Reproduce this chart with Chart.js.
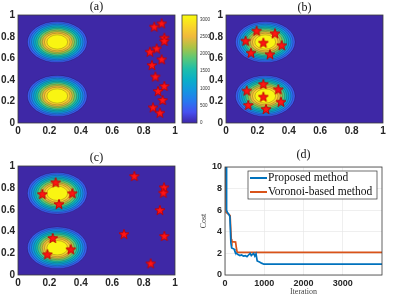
<!DOCTYPE html>
<html>
<head>
<meta charset="utf-8">
<script src="https://cdn.jsdelivr.net/npm/chart.js@4.4.0/dist/chart.umd.min.js"></script>
<style>
html, body { margin: 0; padding: 0; background: #fff; }
body { width: 393px; height: 301px; position: relative; overflow: hidden; }
.panel { position: absolute; left: 0; top: 0; width: 393px; height: 301px; }
.ylab { position: absolute; width: 24px; text-align: right; font: bold 10px "Liberation Sans"; color: #262626; line-height: 12px; z-index: 20; }
</style>
</head>
<body>
<div class="panel"><canvas id="ca"></canvas></div>
<div class="panel"><canvas id="cbar"></canvas></div>
<div class="panel"><canvas id="cb"></canvas></div>
<div class="panel"><canvas id="cc"></canvas></div>
<div class="panel"><canvas id="cd"></canvas></div>
<div id="labels"></div>
<script>
'use strict'

// density peaks and contour rings (radius in data units, outer -> inner)
const peakCenters = [[0.25, 0.25], [0.25, 0.75]];
const contourRadii = [0.19, 0.177, 0.164, 0.15, 0.137, 0.124, 0.11, 0.096, 0.082, 0.066];
const contourColors = ['rgb(60,92,240)', 'rgb(40,120,240)', 'rgb(22,148,226)', 'rgb(12,172,202)',
    'rgb(26,188,174)', 'rgb(82,199,126)', 'rgb(160,196,76)', 'rgb(232,186,60)',
    'rgb(249,210,44)', 'rgb(249,245,18)'];
const contourBackground = 'rgb(62,40,166)';

const unitTicks = [0, 0.2, 0.4, 0.6, 0.8, 1];

const colorbarMax = 3125;
const colorbarTicks = [0, 500, 1000, 1500, 2000, 2500, 3000];
const parulaStops = ['rgb(62,38,168)', 'rgb(70,80,240)', 'rgb(40,120,240)', 'rgb(20,150,225)',
    'rgb(10,175,200)', 'rgb(30,190,170)', 'rgb(90,200,120)', 'rgb(170,195,70)',
    'rgb(240,185,60)', 'rgb(250,215,40)', 'rgb(249,251,14)'];

// agent positions
const starsAx = [0.915, 0.868, 0.932, 0.932, 0.883, 0.84, 0.915, 0.853, 0.875, 0.932, 0.892, 0.921, 0.86, 0.904];
const starsAy = [0.923, 0.892, 0.79, 0.76, 0.69, 0.66, 0.59, 0.537, 0.43, 0.343, 0.296, 0.213, 0.145, 0.095];
const starsBx = [0.195, 0.312, 0.125, 0.238, 0.355, 0.159, 0.28, 0.238, 0.132, 0.333, 0.238, 0.142, 0.35, 0.255];
const starsBy = [0.855, 0.83, 0.762, 0.744, 0.72, 0.651, 0.636, 0.361, 0.3, 0.312, 0.244, 0.167, 0.197, 0.13];
const starsCx = [0.24, 0.155, 0.346, 0.261, 0.221, 0.336, 0.187, 0.741, 0.93, 0.926, 0.904, 0.675, 0.932, 0.845];
const starsCy = [0.85, 0.743, 0.75, 0.651, 0.34, 0.236, 0.19, 0.908, 0.805, 0.755, 0.596, 0.376, 0.358, 0.107];

// cost curves
const iterTicks = [0, 1000, 2000, 3000];
const costTicks = [0, 2, 4, 6, 8, 10];
const iterProposed = [0, 30, 40, 60, 100, 125, 150, 170, 230, 250, 290, 330, 380, 420, 470, 520, 560, 600, 640, 670, 700, 730, 760, 790, 820, 880, 930, 990, 4000];
const costProposed = [20, 10, 6.0, 5.8, 5.6, 5.4, 3.0, 2.5, 2.4, 2.2, 2.0, 1.9, 1.8, 1.85, 1.75, 1.8, 1.7, 1.85, 2.0, 1.8, 1.9, 2.0, 1.75, 1.95, 1.3, 1.2, 1.1, 1.0, 1.0];
const iterVoronoi = [0, 20, 30, 100, 130, 160, 175, 270, 290, 310, 4000];
const costVoronoi = [20, 10, 5.8, 5.6, 5.5, 3.3, 3.1, 3.05, 2.5, 2.1, 2.1];

Chart.defaults.font.family = 'Liberation Sans';
Chart.defaults.color = '#262626';
Chart.defaults.animation = false;
Chart.defaults.events = [];

function makeStar(size){
    const c = document.createElement('canvas');
    c.width = size; c.height = size;
    const g = c.getContext('2d');
    const R = size / 2 - 0.8, r = R * 0.42, m = size / 2;
    g.beginPath();
    for (let i = 0; i < 10; i++){
        const a = -Math.PI / 2 + i * Math.PI / 5;
        const rr = i % 2 ? r : R;
        g.lineTo(m + rr * Math.cos(a), m + 0.5 + rr * Math.sin(a));
    }
    g.closePath();
    g.fillStyle = '#ff1414';
    g.fill();
    g.strokeStyle = '#c00000';
    g.lineWidth = 0.9;
    g.stroke();
    return c;
}
const star = makeStar(12);

const panelTitle = {
    id: 'panelTitle',
    afterDraw(chart, args, opts){
        const {ctx, chartArea: a} = chart;
        ctx.save();
        ctx.font = '12px "Liberation Serif"';
        ctx.fillStyle = '#111';
        ctx.textAlign = 'center';
        ctx.textBaseline = 'middle';
        ctx.fillText(opts.text, (a.left + a.right) / 2, a.top - opts.offset);
        ctx.restore();
    }
};

// y tick labels of the map panels as page text, placed from the y scale
const yLabels = {
    id: 'yLabels',
    afterRender(chart){
        const {chartArea: a, scales: {y}} = chart;
        const holder = document.getElementById('labels');
        const key = chart.canvas.id;
        holder.querySelectorAll('[data-for="' + key + '"]').forEach(n => n.remove());
        unitTicks.forEach(v => {
            const s = document.createElement('div');
            s.className = 'ylab';
            s.dataset.for = key;
            s.textContent = String(v);
            s.style.left = (a.left - 3 - 24) + 'px';
            s.style.top = (y.getPixelForValue(v) - 6) + 'px';
            holder.appendChild(s);
        });
    }
};

const boxPlugin = {
    id: 'box',
    afterDraw(chart){
        const {ctx, chartArea: a} = chart;
        ctx.save();
        ctx.strokeStyle = '#3a3a3a';
        ctx.lineWidth = 0.8;
        ctx.strokeRect(a.left, a.top, a.width, a.height);
        ctx.restore();
    }
};

const contourPlugin = {
    id: 'contour',
    beforeDatasetsDraw(chart){
        const {ctx, chartArea: a, scales: {x, y}} = chart;
        ctx.save();
        ctx.beginPath();
        ctx.rect(a.left, a.top, a.width, a.height);
        ctx.clip();
        ctx.fillStyle = contourBackground;
        ctx.fillRect(a.left, a.top, a.width, a.height);
        peakCenters.forEach(([cx, cy]) => {
            const px = x.getPixelForValue(cx), py = y.getPixelForValue(cy);
            contourRadii.forEach((r, i) => {
                const rx = x.getPixelForValue(cx + r) - px;
                const ry = py - y.getPixelForValue(cy + r);
                ctx.beginPath();
                ctx.ellipse(px, py, rx, ry, 0, 0, Math.PI * 2);
                ctx.fillStyle = contourColors[i];
                ctx.fill();
                ctx.lineWidth = 0.5;
                ctx.strokeStyle = 'rgba(0,0,0,0.4)';
                ctx.stroke();
            });
        });
        ctx.restore();
    }
};

function fixWidth(w){ return scale => { scale.width = w; }; }
function fixHeight(h){ return scale => { scale.height = h; }; }
function setTicks(values){ return scale => { scale.ticks = values.map(v => ({value: v})); }; }

// every canvas covers the whole page; padding places the plot
function contourChart(id, xs, ys, title, titleOffset, pad, yWidth){
    return new Chart(document.getElementById(id), {
        type: 'scatter',
        data: {
            datasets: [{
                data: xs.map((v, i) => ({x: v, y: ys[i]})),
                pointStyle: star,
                pointRadius: 6,
            }]
        },
        options: {
            responsive: true,
            maintainAspectRatio: false,
            layout: {padding: pad},
            plugins: {legend: {display: false}, tooltip: {enabled: false},
                panelTitle: {text: title, offset: titleOffset}},
            scales: {
                x: {
                    min: 0, max: 1,
                    afterBuildTicks: setTicks(unitTicks),
                    afterFit: fixHeight(17),
                    grid: {display: false, drawTicks: false},
                    border: {display: false},
                    ticks: {font: {size: 10, weight: 'bold'}, padding: 2, maxRotation: 0,
                        callback: v => String(v)}
                },
                y: {
                    min: 0, max: 1,
                    afterBuildTicks: setTicks(unitTicks),
                    afterFit: fixWidth(yWidth),
                    grid: {display: false, drawTicks: false},
                    border: {display: false},
                    ticks: {display: false}
                }
            }
        },
        plugins: [contourPlugin, boxPlugin, panelTitle, yLabels]
    });
}

contourChart('ca', starsAx, starsAy, '(a)', 8, {left: 0, right: 218, top: 15, bottom: 161}, 18);
contourChart('cb', starsBx, starsBy, '(b)', 7, {left: 195, right: 10, top: 15, bottom: 161}, 31);
contourChart('cc', starsCx, starsCy, '(c)', 8, {left: 0, right: 218, top: 166, bottom: 9}, 18);

new Chart(document.getElementById('cbar'), {
    type: 'bar',
    data: {
        labels: [''],
        datasets: [{
            data: [colorbarMax],
            barPercentage: 1,
            categoryPercentage: 1,
            backgroundColor: ctx => {
                const a = ctx.chart.chartArea;
                if (!a) return parulaStops[0];
                const g = ctx.chart.ctx.createLinearGradient(0, a.bottom, 0, a.top);
                parulaStops.forEach((c, i) => g.addColorStop(i / (parulaStops.length - 1), c));
                return g;
            }
        }]
    },
    options: {
        responsive: true,
        maintainAspectRatio: false,
        layout: {padding: {top: 15, left: 182, right: 183, bottom: 178}},
        plugins: {legend: {display: false}, tooltip: {enabled: false}},
        scales: {
            x: {display: false},
            y: {
                position: 'right',
                min: 0, max: colorbarMax,
                afterBuildTicks: setTicks(colorbarTicks),
                afterFit: fixWidth(13),
                grid: {display: false, drawTicks: false},
                border: {display: false},
                ticks: {font: {size: 4.5}, padding: 3, color: '#333', callback: v => String(v)}
            }
        }
    },
    plugins: [boxPlugin]
});

const legendBox = {
    id: 'legendBox',
    afterDraw(chart){
        const {ctx, chartArea: a} = chart;
        const w = 129, h = 28;
        const x0 = a.right - 5 - w, y0 = a.top + 4;
        ctx.save();
        ctx.fillStyle = '#fff';
        ctx.fillRect(x0, y0, w, h);
        ctx.strokeStyle = '#333';
        ctx.lineWidth = 0.7;
        ctx.strokeRect(x0, y0, w, h);
        ctx.font = '11.5px "Liberation Serif"';
        ctx.textBaseline = 'middle';
        chart.data.datasets.forEach((ds, i) => {
            const yy = y0 + 7 + i * 14;
            ctx.strokeStyle = ds.borderColor;
            ctx.lineWidth = 2;
            ctx.beginPath();
            ctx.moveTo(x0 + 2, yy);
            ctx.lineTo(x0 + 19, yy);
            ctx.stroke();
            ctx.fillStyle = '#111';
            ctx.fillText(ds.label, x0 + 20, yy);
        });
        ctx.restore();
    }
};

new Chart(document.getElementById('cd'), {
    type: 'line',
    data: {
        datasets: [{
            label: 'Proposed method',
            data: iterProposed.map((v, i) => ({x: v, y: costProposed[i]})),
            borderColor: 'rgb(0,114,189)',
            borderWidth: 1.7,
            pointRadius: 0,
        }, {
            label: 'Voronoi-based method',
            data: iterVoronoi.map((v, i) => ({x: v, y: costVoronoi[i]})),
            borderColor: 'rgb(217,83,25)',
            borderWidth: 1.7,
            pointRadius: 0,
        }]
    },
    options: {
        responsive: true,
        maintainAspectRatio: false,
        layout: {padding: {top: 167, right: 11, left: 195, bottom: 0}},
        plugins: {legend: {display: false}, tooltip: {enabled: false},
            panelTitle: {text: '(d)', offset: 12}},
        scales: {
            x: {
                type: 'linear',
                min: 0, max: 4000,
                afterBuildTicks: setTicks(iterTicks),
                afterFit: fixHeight(26),
                grid: {color: '#e4e4e4', lineWidth: 0.6, drawTicks: false},
                border: {display: false},
                ticks: {font: {size: 9, weight: 'bold'}, padding: 3, maxRotation: 0, callback: v => String(v)},
                title: {display: true, text: 'Iteration', font: {family: 'Liberation Serif', size: 8}, padding: {top: 0, bottom: 4}, color: '#444'}
            },
            y: {
                min: 0, max: 10,
                afterBuildTicks: setTicks(costTicks),
                afterFit: fixWidth(30),
                grid: {color: '#e4e4e4', lineWidth: 0.6, drawTicks: false},
                border: {display: false},
                ticks: {font: {size: 9, weight: 'bold'}, padding: 3, callback: v => String(v)},
                title: {display: true, text: 'Cost', font: {family: 'Liberation Serif', size: 8}, padding: {top: 4, bottom: 0}, color: '#444'}
            }
        }
    },
    plugins: [boxPlugin, legendBox, panelTitle]
});
</script>
</body>
</html>
